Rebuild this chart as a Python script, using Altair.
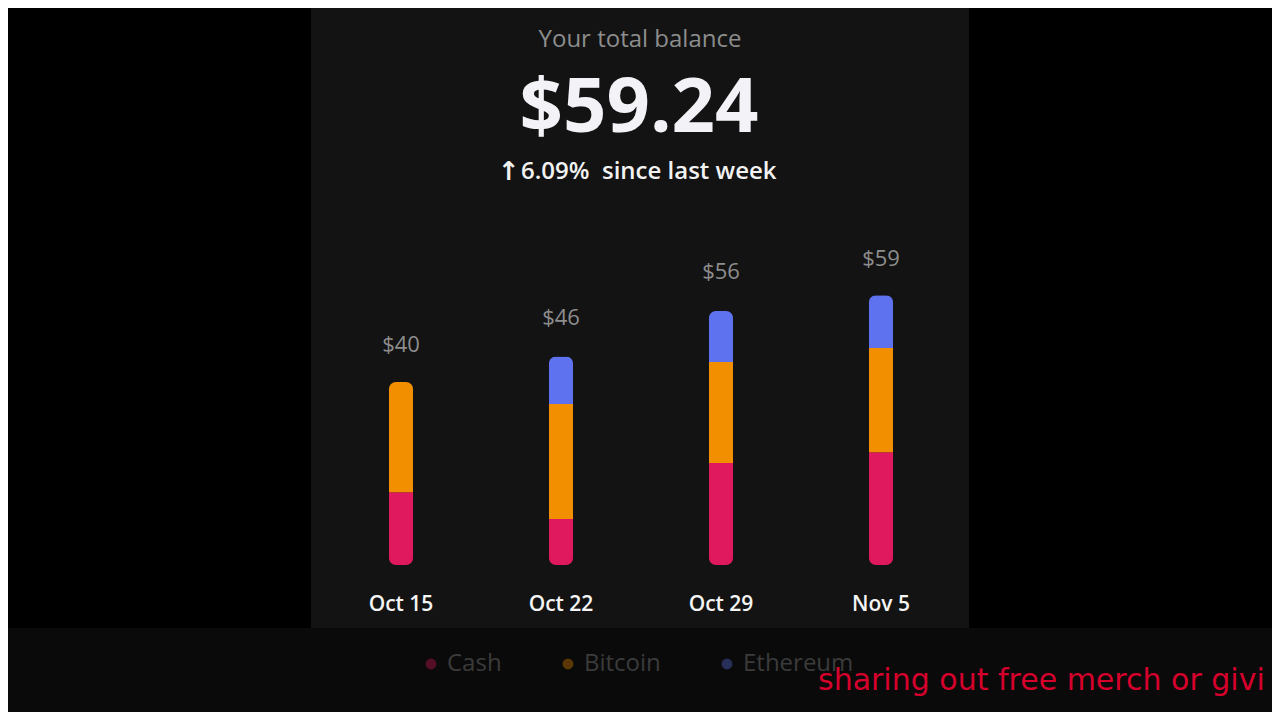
import altair as alt
import pandas as pd

dates = ["Oct 15", "Oct 22", "Oct 29", "Nov 5"]
assets = ["Cash", "Bitcoin", "Ethereum"]
cash = [16.0, 10.1, 22.4, 24.8]
bitcoin = [24.2, 25.3, 22.2, 22.9]
ethereum = [0.0, 10.4, 11.2, 11.6]
totals = [40, 46, 56, 59]
total_labels = ["$40", "$46", "$56", "$59"]
asset_colors = ["#E0185E", "#F28F00", "#5E72F0"]

headline = "Your total balance"
balance = "$59.24"
arrow = "\u2191"
change = "6.09%\u00a0\u00a0since last week"
subtitle = "sharing out free merch or givi"

rows = []
for i, d in enumerate(dates):
    for j, (a, vals) in enumerate(zip(assets, [cash, bitcoin, ethereum])):
        rows.append({"date": d, "asset": a, "value": vals[i], "idx": j})
bars_df = pd.DataFrame(rows)
tot_df = pd.DataFrame({"date": dates, "total": totals, "label": total_labels})

FONT = "Open Sans"
W, H = 1264, 704

xs = alt.Scale(type="point", domain=dates, range=[393, 873], padding=0)
ys = alt.Scale(domain=[0, 100], range=[557, 102])

one = pd.DataFrame({"k": [0]})

panel = alt.Chart(one).mark_rect(color="#131313").encode(
    x=alt.value(303), x2=alt.value(961), y=alt.value(0), y2=alt.value(620))
band = alt.Chart(one).mark_rect(color="#0a0a0a").encode(
    x=alt.value(0), x2=alt.value(W), y=alt.value(620), y2=alt.value(H))

t1 = alt.Chart(one).mark_text(text=headline, font=FONT, fontSize=24, color="#8d8d8d",
                              fontWeight=500, baseline="middle", align="center").encode(
    x=alt.value(632), y=alt.value(32))
t2 = alt.Chart(one).mark_text(text=balance, font=FONT, fontSize=76, color="#f2f2f7",
                              fontWeight=700, baseline="middle", align="center").encode(
    x=alt.value(631), y=alt.value(101))
t3a = alt.Chart(one).mark_text(text=arrow, font="DejaVu Sans", fontSize=26, color="#f2f2f2",
                               fontWeight="bold", baseline="middle", align="left").encode(
    x=alt.value(490), y=alt.value(164))
t3 = alt.Chart(one).mark_text(text=change, font=FONT, fontSize=24, color="#f2f2f2",
                              fontWeight=600, baseline="middle", align="left").encode(
    x=alt.value(513), y=alt.value(164))
t4 = alt.Chart(one).mark_text(text=subtitle, font="DejaVu Sans", fontSize=30,
                              color="#D6002C",
                              baseline="alphabetic", align="left").encode(
    x=alt.value(810), y=alt.value(682))

bars = alt.Chart(bars_df).mark_bar(size=24, cornerRadius=7).encode(
    x=alt.X("date:N", scale=xs, axis=None),
    y=alt.Y("value:Q", scale=ys, axis=None, stack="zero"),
    color=alt.Color("asset:N", scale=alt.Scale(domain=assets, range=asset_colors),
                    legend=alt.Legend(orient="none", legendX=411, legendY=644, direction="horizontal",
                                      title=None, symbolType="circle", symbolSize=120,
                                      symbolOpacity=0.35, labelColor="#3b3b3b", labelFont=FONT,
                                      labelFontSize=24, columnPadding=54, labelOffset=4)),
    order=alt.Order("idx:Q", sort="ascending"),
)

tot_text = alt.Chart(tot_df).mark_text(font=FONT, fontSize=22, color="#8d8d8d", dy=-38,
                                       baseline="middle").encode(
    x=alt.X("date:N", scale=xs, axis=None),
    y=alt.Y("total:Q", scale=ys, axis=None),
    text="label:N")

date_text = alt.Chart(tot_df).mark_text(font=FONT, fontSize=21, color="#f5f5f5", fontWeight=600,
                                        dy=40, baseline="middle").encode(
    x=alt.X("date:N", scale=xs, axis=None),
    y=alt.datum(0, scale=ys),
    text="date:N")

chart = alt.layer(panel, band, bars, tot_text, date_text, t1, t2, t3a, t3, t4).properties(
    width=W, height=H, background="#000000", padding=0,
    autosize=alt.AutoSizeParams(type="none"),
).configure_view(stroke=None)

chart.save("out.html", embed_options={"renderer": "svg", "actions": False})
